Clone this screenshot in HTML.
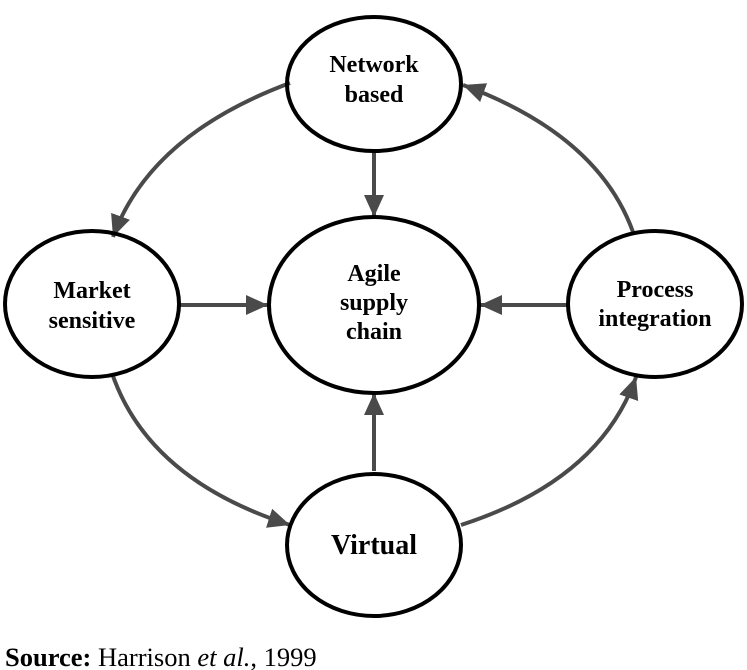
<!DOCTYPE html>
<html><head><meta charset="utf-8"><style>
html,body{margin:0;padding:0;background:#fff;}
svg{display:block;}
text{font-family:"Liberation Serif",serif;fill:#000;}
.b{font-weight:bold;}
</style></head><body>
<svg width="747" height="670" viewBox="0 0 747 670" xmlns="http://www.w3.org/2000/svg">
<defs>
<marker id="a" markerUnits="userSpaceOnUse" markerWidth="24" markerHeight="22" refX="22" refY="10" orient="auto">
<path d="M0,0 L22,10 L0,20 Z" fill="#4a4a4a"/>
</marker>
</defs>
<g stroke="#4a4a4a" stroke-width="4" fill="none" marker-end="url(#a)">
<line x1="374" y1="150" x2="374" y2="217"/>
<line x1="180" y1="305" x2="268" y2="305"/>
<line x1="568" y1="305" x2="480" y2="305"/>
<line x1="374" y1="471" x2="374" y2="393"/>
<path d="M633,232 Q598,135 463,85"/>
<path d="M290,83 Q150,135 113,237"/>
<path d="M113,376 Q150,480 290,525"/>
<path d="M461,525 Q600,480 636,377"/>
</g>
<g stroke="#000" stroke-width="4" fill="none">
<ellipse cx="374" cy="84" rx="87" ry="67"/>
<ellipse cx="374" cy="305" rx="105" ry="88"/>
<ellipse cx="92" cy="304" rx="87" ry="73"/>
<ellipse cx="655" cy="304" rx="87" ry="73"/>
<ellipse cx="374" cy="545" rx="87" ry="71"/>
</g>
<g class="b" font-size="24" text-anchor="middle">
<text x="374" y="72">Network</text>
<text x="374" y="102">based</text>
<text x="374" y="281">Agile</text>
<text x="374" y="310">supply</text>
<text x="374" y="339">chain</text>
<text x="92" y="298">Market</text>
<text x="92" y="328">sensitive</text>
<text x="655" y="297">Process</text>
<text x="655" y="326">integration</text>
<text x="374" y="554" font-size="28">Virtual</text>
</g>
<text x="5" y="666" font-size="26.5" style="font-weight:normal"><tspan style="font-weight:bold">Source:</tspan> Harrison <tspan font-style="italic">et al.</tspan>, 1999</text>
</svg>
</body></html>
